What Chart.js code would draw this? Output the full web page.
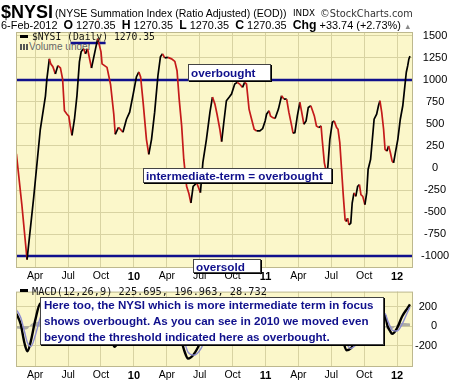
<!DOCTYPE html>
<html><head><meta charset="utf-8">
<script src="https://cdn.jsdelivr.net/npm/chart.js@4.4.1/dist/chart.umd.min.js"></script>
<style>
html,body{margin:0;padding:0;background:#fff}
#wrap{position:relative;width:460px;height:383px;overflow:hidden;background:#fff;font-family:'Liberation Sans',Arial,sans-serif}
.abs{position:absolute;white-space:pre;line-height:1}
.bg{position:absolute;background:#fbf7ca;z-index:0}
canvas{position:absolute;left:0;z-index:2}
.box{position:absolute;background:#fff;border:1px solid #444;box-shadow:1px 1px 0 #000;box-sizing:border-box;z-index:4}
.dash{position:absolute;background:#000;z-index:6;width:8px;height:3px}
</style></head>
<body>
<div id="wrap">
  <div id="bg1" class="bg"></div>
  <div id="bg2" class="bg"></div>
  <canvas id="c1" width="460" height="283" style="top:0;width:460px;height:283px"></canvas>
  <canvas id="c2" width="460" height="100" style="top:283px;width:460px;height:100px"></canvas>
  <div class="dash" style="left:20px;top:35px"></div>
  <div class="dash" style="left:20px;top:289px"></div>
</div>
<script>
// ---------------- DATA ----------------
const nysiDates = [
'2009-02-09','2009-02-23','2009-03-09','2009-03-28','2009-04-15','2009-04-29','2009-05-03','2009-05-10','2009-05-14','2009-05-20',
'2009-05-27','2009-06-03','2009-06-10','2009-06-16','2009-06-21','2009-06-28','2009-07-03','2009-07-07','2009-07-12','2009-07-19',
'2009-07-26','2009-08-02','2009-08-07','2009-08-14','2009-08-19','2009-08-25','2009-09-05','2009-09-16','2009-09-22','2009-10-01',
'2009-10-04','2009-10-11','2009-10-18','2009-10-28','2009-11-06','2009-11-10','2009-11-19','2009-11-28','2009-12-01','2009-12-11',
'2009-12-20','2009-12-30','2010-01-08','2010-01-15','2010-01-20','2010-01-27','2010-02-05','2010-02-11','2010-02-18','2010-02-26',
'2010-03-07','2010-03-14','2010-03-20','2010-03-26','2010-04-04','2010-04-14','2010-04-23','2010-04-29','2010-05-05','2010-05-12',
'2010-05-18','2010-05-26','2010-06-01','2010-06-07','2010-06-13','2010-06-23','2010-07-03','2010-07-10','2010-07-20','2010-07-30',
'2010-08-06','2010-08-13','2010-08-19','2010-08-27','2010-09-01','2010-09-07','2010-09-14','2010-09-22','2010-09-28','2010-10-07',
'2010-10-14','2010-10-21','2010-10-29','2010-11-04','2010-11-09','2010-11-16','2010-11-23','2010-11-30','2010-12-07','2010-12-16',
'2010-12-24','2010-12-31','2011-01-04','2011-01-11','2011-01-15','2011-01-21','2011-01-28','2011-02-06','2011-02-14','2011-02-20',
'2011-02-27','2011-03-05','2011-03-13','2011-03-17','2011-03-22','2011-03-29','2011-04-05','2011-04-10','2011-04-16','2011-04-22',
'2011-04-28','2011-05-05','2011-05-10','2011-05-15','2011-05-21','2011-05-28','2011-06-03','2011-06-06','2011-06-12','2011-06-16',
'2011-06-19','2011-06-22','2011-06-27','2011-07-04','2011-07-09','2011-07-16','2011-07-20','2011-07-25','2011-07-30','2011-08-04',
'2011-08-09','2011-08-13','2011-08-16','2011-08-20','2011-08-25','2011-08-29','2011-09-03','2011-09-08','2011-09-13','2011-09-18',
'2011-09-22','2011-09-27','2011-10-03','2011-10-08','2011-10-12','2011-10-19','2011-10-24','2011-10-29','2011-11-05','2011-11-10',
'2011-11-14','2011-11-19','2011-11-24','2011-11-28','2011-12-03','2011-12-08','2011-12-13','2011-12-18','2011-12-22','2011-12-27',
'2012-01-03','2012-01-10','2012-01-17','2012-01-23','2012-01-27','2012-01-31','2012-02-03','2012-02-06'];
const nysiValues = [
160,-420,-1040,-326,440,817,1010,1240,1183,1150,
1069,1163,1137,1011,650,611,589,478,371,554,
820,1206,1323,1354,1297,1354,1136,1354,1470,1320,
1183,1163,1143,949,611,383,463,421,406,554,
634,840,1034,1091,1034,749,326,154,326,634,
1051,1263,1297,1251,1257,1240,1211,1105,783,478,
97,-208,-283,-397,-208,-170,-280,63,326,634,
806,726,611,440,300,520,764,806,840,954,
973,954,916,973,954,669,554,440,421,421,
448,535,611,650,592,573,562,669,821,783,
783,634,478,394,402,592,745,634,497,535,
688,707,650,592,478,459,478,326,59,-17,
-90,40,326,520,535,459,440,288,-17,-322,
-589,-608,-570,-646,-627,-398,-283,-322,-208,-189,
-303,-322,-417,-283,-17,97,326,554,611,707,
764,630,440,211,192,250,173,78,59,173,
326,554,707,935,1088,1163,1236.61,1270.35];

const macdDates = [
'2009-02-09','2009-02-20','2009-03-02','2009-03-10','2009-03-20','2009-04-01','2009-04-15','2009-05-01','2009-05-15','2009-06-01',
'2009-06-15','2009-07-01','2009-07-12','2009-07-25','2009-08-10','2009-08-25','2009-09-10','2009-09-25','2009-10-10','2009-10-25',
'2009-11-08','2009-11-20','2009-12-05','2009-12-20','2010-01-08','2010-01-20','2010-02-05','2010-02-15','2010-03-01','2010-03-15',
'2010-04-01','2010-04-20','2010-05-05','2010-05-20','2010-05-30','2010-06-15','2010-07-05','2010-07-20','2010-08-06','2010-08-25',
'2010-09-05','2010-09-20','2010-10-10','2010-11-05','2010-11-25','2010-12-15','2011-01-05','2011-01-25','2011-02-15','2011-03-05',
'2011-03-20','2011-04-05','2011-04-20','2011-05-05','2011-05-25','2011-06-10','2011-06-20','2011-07-05','2011-07-20','2011-08-01',
'2011-08-13','2011-08-25','2011-09-10','2011-09-25','2011-10-08','2011-10-25','2011-11-10','2011-11-28','2011-12-05','2011-12-12',
'2011-12-18','2012-01-01','2012-01-15','2012-01-31','2012-02-06'];
const macdValues = [
130,20,-180,-260,-150,60,235,240,180,60,
-20,-120,-170,-40,140,120,60,110,30,-60,
-214,-150,-90,30,150,120,-120,-190,-40,140,
160,100,-60,-260,-335,-290,-150,0,150,30,
-20,80,110,60,-80,-120,-30,-20,60,0,
-100,-20,-30,20,-50,-130,-180,-40,0,-120,
-250,-230,-150,-100,-110,60,150,110,0,-50,
-80,-20,100,190,225.695];
const signalValues = [
170,90,-60,-170,-210,-100,90,210,220,130,
40,-60,-130,-120,40,120,90,90,70,0,
-120,-180,-130,-40,90,130,-20,-140,-120,40,
140,130,30,-160,-270,-300,-230,-100,70,90,
20,30,90,80,-20,-100,-70,-30,30,30,
-60,-50,-30,0,-20,-90,-140,-100,-30,-60,
-180,-230,-190,-130,-110,-20,100,130,60,0,
-40,-50,20,150,196.963];
const histValues = [
-25,-30,-35,-30,20,40,45,20,-15,-25,
-25,-20,-15,25,35,5,-10,10,-15,-20,
-35,10,15,25,25,-5,-35,-20,30,35,
10,-10,-30,-40,-25,5,30,35,30,-20,
-15,20,10,-5,-25,-10,15,5,15,-10,
-15,10,0,10,-10,-15,-15,25,10,-25,
-30,0,15,10,0,30,20,-10,-30,-35,
-30,15,35,30,28.732];

const xTickDates = ['2009-04-01','2009-07-01','2009-10-01','2010-01-01','2010-04-01','2010-07-01','2010-10-01','2011-01-01','2011-04-01','2011-07-01','2011-10-01','2012-01-01'];
const xTickLabels = ['Apr','Jul','Oct','10','Apr','Jul','Oct','11','Apr','Jul','Oct','12'];
const yTicksMain = [-1000,-750,-500,-250,0,250,500,750,1000,1250,1500];
const yTicksMacd = [-200,0,200];
const overboughtLevel = 1000;
const oversoldLevel = -1000;
const markerLevel = 1420;
const markerDates = ['2009-07-08','2009-10-14'];
const axisStart = '2009-02-08', axisEnd = '2012-02-14';

// ---------------- HELPERS ----------------
function toM(s){const [y,m,d]=s.split('-').map(Number);const dim=new Date(y,m,0).getDate();return (y-2009)*12+(m-1)+(d-1)/dim;}
const pts=(ds,vs)=>ds.map((d,i)=>({x:toM(d),y:vs[i]}));
const xMin=toM(axisStart), xMax=toM(axisEnd);
const xTickVals=xTickDates.map(toM);
const GRID='#d8d3a2', BORDER='#bdb88e', NAVY='#10108c';
Chart.defaults.font.family="'Liberation Sans', Arial, sans-serif";
Chart.defaults.color='#000';

const frame={id:'frame',afterDraw(c){const a=c.chartArea,g=c.ctx;g.save();g.strokeStyle=BORDER;g.lineWidth=1;g.strokeRect(a.left+0.5,a.top+0.5,a.right-a.left-1,a.bottom-a.top-1);g.restore();}};

function xScale(){return{type:'linear',min:xMin,max:xMax,
  afterBuildTicks:s=>{s.ticks=xTickVals.map(v=>({value:v}));},
  ticks:{autoSkip:false,maxRotation:0,padding:2,callback:(v,i)=>xTickLabels[i],
    font:c=>{const l=xTickLabels[c.index]||'';return /^\d+$/.test(l)?{size:11,weight:'bold'}:{size:10.5,weight:'normal'};}},
  grid:{color:GRID,drawTicks:false},border:{display:false},
  afterFit:s=>{s.height=s.chart.height-(s.chart.canvas.id==='c1'?268:84);} };}

const plain=v=>String(v);

const ch1=new Chart(document.getElementById('c1'),{
  type:'line',
  data:{datasets:[
    {data:pts(nysiDates,nysiValues),borderWidth:1.7,pointRadius:0,tension:0,borderColor:'#000',
      segment:{borderColor:c=>c.p1.parsed.y>=c.p0.parsed.y?'#000':'#c41a1a'}},
    {data:[{x:xMin,y:overboughtLevel},{x:xMax,y:overboughtLevel}],borderColor:NAVY,borderWidth:2.5,pointRadius:0},
    {data:[{x:xMin,y:oversoldLevel},{x:xMax,y:oversoldLevel}],borderColor:NAVY,borderWidth:2.5,pointRadius:0},
    {data:markerDates.map(d=>({x:toM(d),y:markerLevel})),borderColor:NAVY,borderWidth:2.5,pointRadius:0}
  ]},
  options:{animation:false,responsive:false,devicePixelRatio:1,events:[],
    layout:{padding:{top:32,left:16,right:0,bottom:0}},
    plugins:{legend:{display:false},tooltip:{enabled:false}},
    scales:{x:xScale(),
      y:{position:'right',min:-1136,max:1545,
        afterBuildTicks:s=>{s.ticks=yTicksMain.map(v=>({value:v}));},
        ticks:{crossAlign:'center',padding:8,font:{size:11},callback:plain},
        grid:{color:GRID,drawTicks:false},border:{display:false},
        afterFit:s=>{s.width=47;}}}},
  plugins:[frame]});

const ch2=new Chart(document.getElementById('c2'),{
  type:'line',
  data:{datasets:[
    {data:pts(macdDates,signalValues),borderColor:'#8c8cd0',borderWidth:1.4,pointRadius:0,cubicInterpolationMode:'monotone'},
    {data:pts(macdDates,macdValues),borderColor:'#000',borderWidth:2.4,pointRadius:0,cubicInterpolationMode:'monotone'},
    {data:pts(macdDates,histValues),borderWidth:0,backgroundColor:'rgba(150,150,150,0.75)',fill:'origin',pointRadius:0,cubicInterpolationMode:'monotone'}
  ]},
  options:{animation:false,responsive:false,devicePixelRatio:1,events:[],
    layout:{padding:{top:0,left:16,right:23,bottom:0}},
    plugins:{legend:{display:false},tooltip:{enabled:false}},
    scales:{x:xScale(),
      y:{position:'right',min:-423,max:358,
        afterBuildTicks:s=>{s.ticks=yTicksMacd.map(v=>({value:v}));},
        ticks:{crossAlign:'far',padding:2,font:{size:11},callback:plain},
        grid:{color:GRID,drawTicks:false},border:{display:false},
        afterFit:s=>{s.width=24;}}}},
  plugins:[frame]});

// plot backgrounds behind the transparent canvases
function placeBg(id,ch,off){const a=ch.chartArea,e=document.getElementById(id);
  Object.assign(e.style,{left:a.left+'px',top:(a.top+off)+'px',width:(a.right-a.left)+'px',height:(a.bottom-a.top)+'px'});}
placeBg('bg1',ch1,0);placeBg('bg2',ch2,283);

// ---------------- TEXT ----------------
const wrap=document.getElementById('wrap');
function put(html,left,cy,width,font,z,extra){
  const d=document.createElement('div');d.className='abs';d.innerHTML=html;d.style.font=font;d.style.left=left+'px';d.style.top='0px';
  d.style.zIndex=z;Object.assign(d.style,extra||{});wrap.appendChild(d);
  if(width){const w=d.getBoundingClientRect().width;const fs=parseFloat(getComputedStyle(d).fontSize);d.style.fontSize=(fs*width/w)+'px';}
  const fs2=parseFloat(getComputedStyle(d).fontSize);d.style.top=(cy-0.56*fs2)+'px';return d;}
function box(l,t,w,h){const b=document.createElement('div');b.className='box';Object.assign(b.style,{left:l+'px',top:t+'px',width:w+'px',height:h+'px'});wrap.appendChild(b);}

// header
put('$NYSI',1,12,52,"bold 16px 'Liberation Sans'",5);
put('(NYSE Summation Index (Ratio Adjusted) (EOD))',55,12.5,232,"12px 'Liberation Sans'",5);
put('INDX',293,13,22,"10px 'DejaVu Sans'",5);
put('©StockCharts.com',320,13,93,"11px 'DejaVu Sans'",5,{color:'#333'});
put('6-Feb-2012  <b style="font-size:1.12em">O</b> 1270.35  <b style="font-size:1.12em">H</b> 1270.35  <b style="font-size:1.12em">L</b> 1270.35  <b style="font-size:1.12em">C</b> 1270.35  <b style="font-size:1.12em">Chg</b> +33.74 (+2.73%) <span style="color:#888;font-size:0.7em">▲</span>',1,24,411,"12px 'Liberation Sans'",5);

// panel legends
put('$NYSI (Daily) 1270.35',32,36.5,123,"10px 'DejaVu Sans Mono'",3,{color:'#111'});
const vol=put('<span style="display:inline-block;width:8px;height:6px;margin-right:1px;background:linear-gradient(90deg,#555 0 2px,transparent 2px 3px,#555 3px 5px,transparent 5px 6px,#555 6px 8px)"></span>Volume underlay',20,46.5,84,"10px 'Liberation Sans'",1,{color:'#666'});
vol.style.width='70px';vol.style.overflow='hidden';
put('MACD(12,26,9) 225.695, 196.963, 28.732',32,290.5,235,"10px 'DejaVu Sans Mono'",3,{color:'#111'});

// annotation boxes
const probe=put('intermediate-term = overbought',146,175.5,177,"bold 12px 'Liberation Sans'",5,{color:NAVY});
const BF="bold "+getComputedStyle(probe).fontSize+" 'Liberation Sans'";
box(143,168,189,15);
box(188,64,83,17);put('overbought',191,72.5,0,BF,5,{color:NAVY});
box(193,259,68,14);put('oversold',196,266.5,0,BF,5,{color:NAVY});
box(40,297,344,48);
const l1=put('Here too, the NYSI which is more intermediate term in focus',44,305,330,"bold 12px 'Liberation Sans'",5,{color:NAVY});
const FN="bold "+getComputedStyle(l1).fontSize+" 'Liberation Sans'";
put('shows overbought. As you can see in 2010 we moved even',44,321,0,FN,5,{color:NAVY});
put('beyond the threshold indicated here as overbought.',44,337,0,FN,5,{color:NAVY});
</script>
</body></html>
